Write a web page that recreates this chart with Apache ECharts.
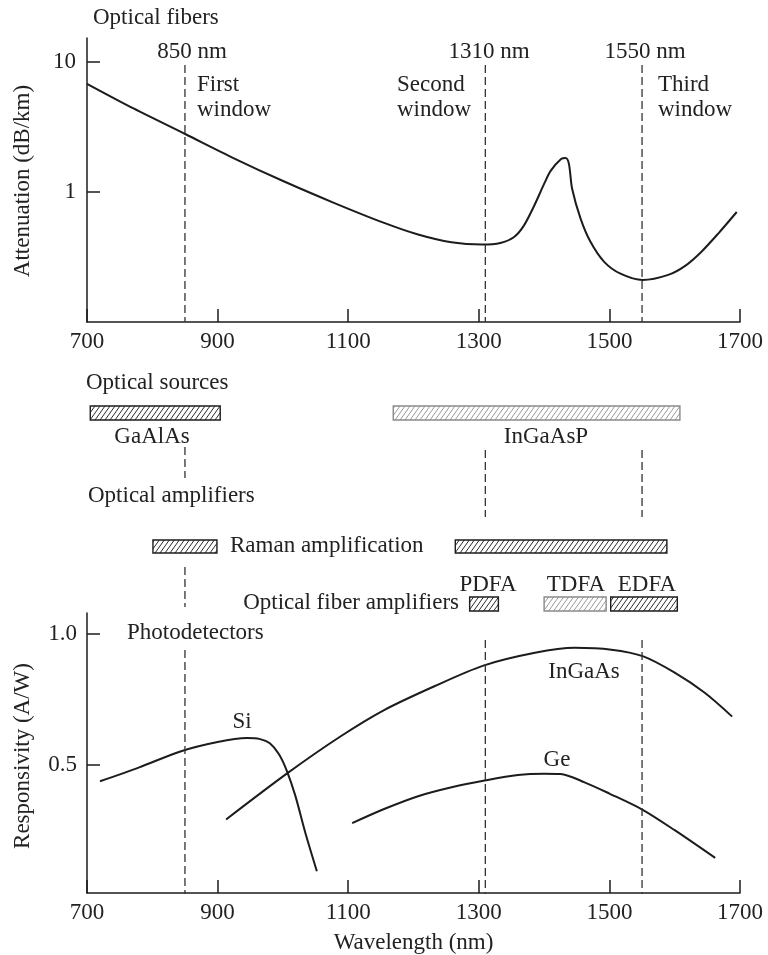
<!DOCTYPE html>
<html>
<head>
<meta charset="utf-8">
<script src="https://cdn.jsdelivr.net/npm/echarts@6/dist/echarts.min.js"></script>
<style>
  html, body { margin: 0; padding: 0; background: #fff; }
  #main { width: 768px; height: 955px; }
</style>
</head>
<body>
<div id="main"></div>
<script>
// tick labels on both wavelength axes
const wavelengthTicks = [700, 900, 1100, 1300, 1500, 1700];
const attenuationTicks = [1, 10];
const responsivityTicks = [0.5, 1.0];

// the three transmission windows
const windows = [850, 1310, 1550];
const windowLabels = ['850 nm', '1310 nm', '1550 nm'];

// fiber attenuation (dB/km)
const attenuationNm = [700, 772, 851, 925, 1002, 1079, 1155, 1207, 1258, 1305, 1333, 1354, 1369, 1385, 1400, 1410, 1426, 1433, 1438, 1443, 1456, 1471, 1492, 1517, 1551, 1590, 1616, 1641, 1667, 1695];
const attenuationDb = [6.76, 4.35, 2.77, 1.81, 1.20, 0.82, 0.577, 0.47, 0.41, 0.394, 0.405, 0.45, 0.55, 0.785, 1.15, 1.45, 1.79, 1.82, 1.64, 1.05, 0.62, 0.413, 0.29, 0.235, 0.21, 0.23, 0.27, 0.347, 0.48, 0.70];

// photodetector responsivity (A/W)
const siNm = [720, 780, 843, 900, 945, 965, 980, 994, 1006, 1019, 1034, 1052];
const siResp = [0.437, 0.49, 0.551, 0.587, 0.602, 0.598, 0.582, 0.54, 0.477, 0.382, 0.243, 0.093];
const ingaasNm = [913, 1007, 1088, 1155, 1232, 1307, 1386, 1447, 1503, 1551, 1600, 1646, 1688];
const ingaasResp = [0.291, 0.468, 0.608, 0.709, 0.80, 0.879, 0.928, 0.947, 0.940, 0.915, 0.852, 0.775, 0.684];
const geNm = [1106, 1155, 1207, 1260, 1307, 1360, 1400, 1425, 1462, 1500, 1551, 1600, 1662];
const geResp = [0.277, 0.331, 0.38, 0.415, 0.439, 0.461, 0.466, 0.465, 0.433, 0.39, 0.328, 0.25, 0.144];

// sources and amplifiers bands (nm)
const bandNames = ['GaAlAs', 'InGaAsP', 'Raman', 'Raman', 'PDFA', 'TDFA', 'EDFA'];
const bandStart = [705, 1169, 801, 1264, 1286, 1400, 1502];
const bandEnd = [904, 1608, 899, 1588, 1330, 1495, 1604];
const bandRow = [0, 0, 1, 1, 2, 2, 2];

// ---- layout / style ----
const FONT = '"Liberation Serif", "Times New Roman", serif';
const FS = 23;
const INK = '#1c1c1c';
const LEFT = 87, RIGHT = 28;
const ROW_Y = [[406, 420], [540, 553], [597, 611]];
const LIGHT_BANDS = ['InGaAsP', 'TDFA'];
const DASH_SPANS = {
  850: [[65, 322], [447, 478], [567, 607], [650, 894]],
  1310: [[65, 322], [450, 517], [640, 894]],
  1550: [[65, 322], [450, 517], [640, 894]]
};

function hatch(color) {
  const c = document.createElement('canvas');
  c.width = 5; c.height = 7;
  const ctx = c.getContext('2d');
  ctx.fillStyle = '#fff';
  ctx.fillRect(0, 0, 5, 7);
  ctx.strokeStyle = color;
  ctx.lineWidth = 1;
  ctx.beginPath();
  for (let k = -1; k <= 1; k++) {
    ctx.moveTo(k * 5, 7);
    ctx.lineTo(k * 5 + 5, 0);
  }
  ctx.stroke();
  return c;
}
const darkHatch = hatch('#2a2a2a');
const lightHatch = hatch('#9a9a9a');

const zip = (xs, ys) => xs.map((x, i) => [x, ys[i]]);

const xAxisBase = (gridIndex) => ({
  type: 'value', gridIndex, min: 700, max: 1700,
  axisLine: { lineStyle: { color: INK, width: 1.5 } },
  axisTick: { inside: true, length: 13, customValues: wavelengthTicks, lineStyle: { color: INK, width: 1.5 } },
  axisLabel: { customValues: wavelengthTicks, margin: 8, color: '#222', fontFamily: FONT, fontSize: FS,
    formatter: v => String(v) },
  splitLine: { show: false }
});

const curve = (name, data, xi) => ({
  name, type: 'line', xAxisIndex: xi, yAxisIndex: xi, data,
  smooth: 0.3, showSymbol: false, silent: true,
  lineStyle: { color: INK, width: 2 }
});

const dashSeries = [];
windows.forEach(w => {
  DASH_SPANS[w].forEach(span => {
    dashSeries.push({
      type: 'line', xAxisIndex: 2, yAxisIndex: 2, silent: true, showSymbol: false,
      data: [[w, span[0]], [w, span[1]]],
      lineStyle: { color: '#333', width: 1.3, type: [8, 4] }
    });
  });
});

const bandData = bandNames.map((n, i) => [bandStart[i], bandEnd[i], bandRow[i], n]);

const texts = [
  ['Optical fibers', 93, 18, 'left'],
  [windowLabels[0], 192, 52, 'center'],
  ['First', 197, 85, 'left'], ['window', 197, 110, 'left'],
  [windowLabels[1], 489, 52, 'center'],
  ['Second', 397, 85, 'left'], ['window', 397, 110, 'left'],
  [windowLabels[2], 645, 52, 'center'],
  ['Third', 658, 85, 'left'], ['window', 658, 110, 'left'],
  ['Optical sources', 86, 383, 'left'],
  ['GaAlAs', 152, 437, 'center'],
  ['InGaAsP', 546, 437, 'center'],
  ['Optical amplifiers', 88, 496, 'left'],
  ['Raman amplification', 230, 546, 'left'],
  ['PDFA', 488, 585, 'center'],
  ['TDFA', 576, 585, 'center'],
  ['EDFA', 647, 585, 'center'],
  ['Optical fiber amplifiers', 459, 603, 'right'],
  ['Photodetectors', 127, 633, 'left'],
  ['Si', 242, 722, 'center'],
  ['InGaAs', 584, 672, 'center'],
  ['Ge', 557, 760, 'center']
];

const graphics = texts.map(([t, x, y, align]) => ({
  type: 'text', x, y, silent: true,
  style: { text: t, font: FS + 'px ' + FONT, fill: '#222', align, verticalAlign: 'middle' }
}));
[['Attenuation (dB/km)', 23, 181], ['Responsivity (A/W)', 23, 756]].forEach(([t, x, y]) => {
  graphics.push({
    type: 'text', x, y, rotation: Math.PI / 2, silent: true,
    style: { text: t, font: FS + 'px ' + FONT, fill: '#222', align: 'center', verticalAlign: 'middle' }
  });
});

const chart = echarts.init(document.getElementById('main'), null, { renderer: 'canvas' });

const option = {
  animation: false,
  backgroundColor: '#fff',
  grid: [
    { left: LEFT, right: RIGHT, top: 38, height: 284 },
    { left: LEFT, right: RIGHT, top: 613, height: 281 },
    { left: LEFT, right: RIGHT, top: 0, height: 955 }
  ],
  xAxis: [
    xAxisBase(0),
    Object.assign(xAxisBase(1), {
      name: 'Wavelength (nm)', nameLocation: 'middle', nameGap: 38,
      nameTextStyle: { color: '#222', fontFamily: FONT, fontSize: FS }
    }),
    { type: 'value', gridIndex: 2, min: 700, max: 1700, show: false }
  ],
  yAxis: [
    {
      type: 'log', gridIndex: 0, min: 0.1, max: 15.2, logBase: 10,
      axisLine: { show: true, lineStyle: { color: INK, width: 1.5 } },
      axisTick: { show: true, inside: true, length: 13, customValues: attenuationTicks, lineStyle: { color: INK, width: 1.5 } },
      axisLabel: { customValues: attenuationTicks, margin: 11, color: '#222', fontFamily: FONT, fontSize: FS,
        formatter: v => String(v) },
      splitLine: { show: false }
    },
    {
      type: 'value', gridIndex: 1, min: 0.01, max: 1.08,
      axisLine: { show: true, lineStyle: { color: INK, width: 1.5 } },
      axisTick: { show: true, inside: true, length: 13, customValues: responsivityTicks, lineStyle: { color: INK, width: 1.5 } },
      axisLabel: { customValues: responsivityTicks, margin: 10, color: '#222', fontFamily: FONT, fontSize: FS,
        formatter: v => Number(v).toFixed(1) },
      splitLine: { show: false }
    },
    { type: 'value', gridIndex: 2, min: 0, max: 955, inverse: true, show: false }
  ],
  series: [
    curve('Attenuation', zip(attenuationNm, attenuationDb), 0),
    curve('Si', zip(siNm, siResp), 1),
    curve('InGaAs', zip(ingaasNm, ingaasResp), 1),
    curve('Ge', zip(geNm, geResp), 1),
    {
      type: 'custom', xAxisIndex: 2, yAxisIndex: 2, silent: true,
      data: bandData,
      renderItem: (params, api) => {
        const a = api.coord([api.value(0), 0]);
        const b = api.coord([api.value(1), 0]);
        const row = ROW_Y[api.value(2)];
        const light = LIGHT_BANDS.indexOf(bandData[params.dataIndex][3]) >= 0;
        return {
          type: 'rect',
          shape: { x: a[0], y: row[0], width: b[0] - a[0], height: row[1] - row[0] },
          style: {
            fill: { image: light ? lightHatch : darkHatch, repeat: 'repeat' },
            stroke: light ? '#8a8a8a' : '#1c1c1c',
            lineWidth: 1.4
          }
        };
      }
    }
  ].concat(dashSeries),
  graphic: graphics
};

chart.setOption(option);
window.addEventListener('resize', () => chart.resize());
</script>
</body>
</html>
